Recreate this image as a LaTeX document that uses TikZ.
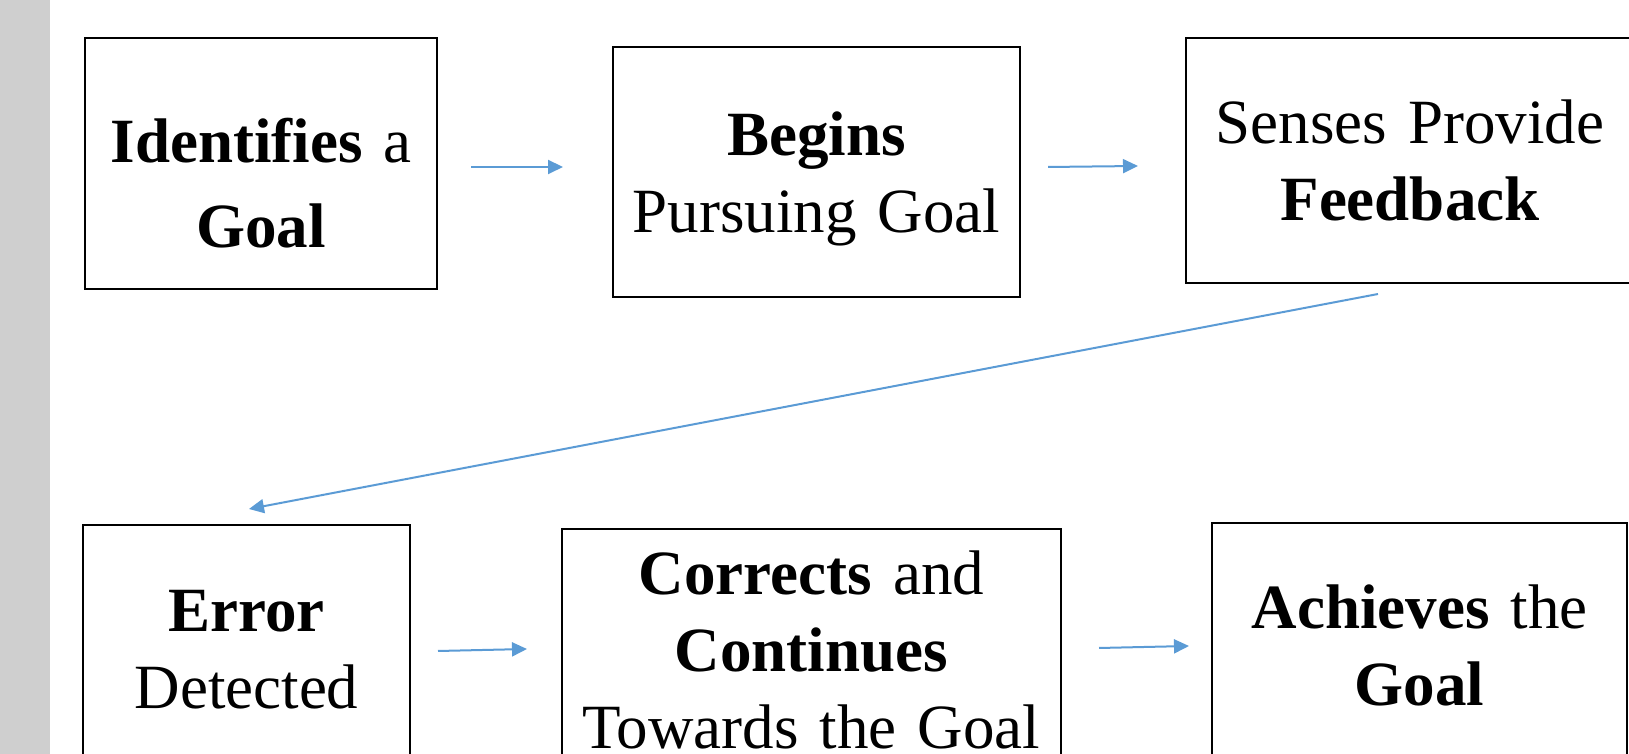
\documentclass[tikz,border=0pt]{standalone}
\usepackage{fontspec}
\setmainfont{Liberation Serif}
\usetikzlibrary{arrows.meta}
\definecolor{arrowblue}{RGB}{91,155,213}
\definecolor{stripgray}{RGB}{207,207,207}

\begin{document}
\begin{tikzpicture}[x=1pt,y=1pt,
    box/.style={draw, line width=2pt, inner sep=0pt, align=center,
      font={\fontsize{63pt}{77pt}\selectfont}},
    flow/.style={draw=arrowblue, line width=2pt,
      -{Triangle[length=15pt,width=14pt]}}]
    \useasboundingbox (0,0) rectangle (1629,754);
    \fill[stripgray] (0,0) rectangle (50,754);

    \node[box, text width=352pt, minimum height=251pt,
      font={\fontsize{63pt}{85pt}\selectfont}] (idf) at (261,590.5)
      {\rule{0pt}{84pt}\textbf{Identifies} a\\\textbf{Goal}};
    \node[box, text width=407pt, minimum height=250pt] (beg) at (816.5,582)
      {\rule{0pt}{57.5pt}\textbf{Begins}\\Pursuing Goal};
    \node[box, text width=448pt, minimum height=245pt] (sen) at (1410,593.5)
      {Senses Provide\\\textbf{Feedback}};
    \node[box, text width=327pt, minimum height=250pt] (err) at (246.5,104)
      {\textbf{Error}\\Detected};
    \node[box, text width=499pt, minimum height=242pt] (cor) at (811.5,104)
      {\textbf{Corrects} and\\\textbf{Continues}\\Towards the Goal};
    \node[box, text width=415pt, minimum height=244pt] (ach) at (1419.5,109)
      {\textbf{Achieves} the\\\textbf{Goal}};

    \draw[flow] ([shift={(33,-3.5)}]idf.east) -- ([shift={(-49,5)}]beg.west);
    \draw[flow] ([shift={(27,5)}]beg.east) -- ([shift={(-47,-5.5)}]sen.west);
    \draw[flow] ([shift={(-32,-10)}]sen.south) -- ([shift={(2.5,15)}]err.north);
    \draw[flow] ([shift={(27,-1)}]err.east) -- ([shift={(-34,1)}]cor.west);
    \draw[flow] ([shift={(37,2)}]cor.east) -- ([shift={(-22,-1)}]ach.west);
  \end{tikzpicture}
\end{document}
